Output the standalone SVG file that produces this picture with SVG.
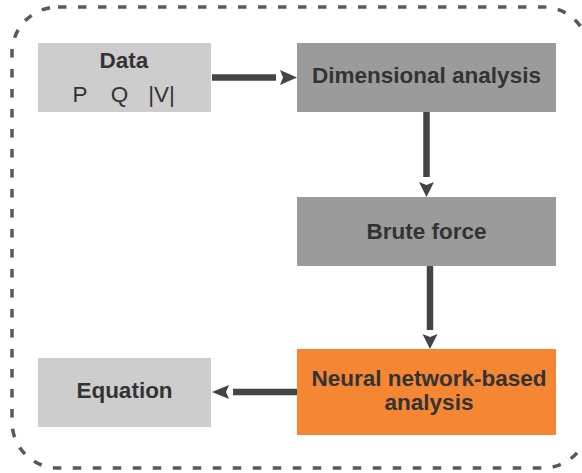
<svg xmlns="http://www.w3.org/2000/svg" width="582" height="473" viewBox="0 0 582 473">
<style>
.frame{fill:none;stroke:#595959;stroke-width:3.5;stroke-dasharray:8.5 11.5}
.light{fill:#cdcdcd}
.mid{fill:#9b9b9b}
.orange{fill:#f58634}
.t{font-family:"Liberation Sans",Arial,sans-serif;font-weight:bold;font-size:22.5px;fill:#333333;text-anchor:middle}
.r{font-family:"Liberation Sans",Arial,sans-serif;font-size:22.5px;fill:#333333;text-anchor:middle}
.ln{stroke:#444444;stroke-width:6.5;fill:none}
.hd{fill:#444444}
</style>
<rect class="frame" x="12" y="7" width="577" height="461" rx="46" ry="46"/>
<g id="data">
<rect class="light" x="38" y="43" width="173" height="69"/>
<text class="t" x="124" y="68" font-size="21.5">Data</text>
<text class="r" x="80" y="102">P</text>
<text class="r" x="119.5" y="102">Q</text>
<text class="r" x="161.5" y="102">|V|</text>
</g>
<g id="dimensional">
<rect class="mid" x="297" y="43" width="259" height="69"/>
<text class="t" x="426.5" y="83">Dimensional analysis</text>
</g>
<g id="brute">
<rect class="mid" x="297" y="197" width="259" height="69"/>
<text class="t" x="426.5" y="239">Brute force</text>
</g>
<g id="neural">
<rect class="orange" x="297" y="349" width="259" height="86"/>
<text class="t" x="429" y="386">Neural network-based</text>
<text class="t" x="429" y="410">analysis</text>
</g>
<g id="equation">
<rect class="light" x="38" y="358" width="173" height="69"/>
<text class="t" x="124.5" y="398">Equation</text>
</g>
<g id="connectors">
<line class="ln" x1="212" y1="77.5" x2="276" y2="77.5"/>
<path class="hd" d="M280,70 L297,77.5 L280,85 L283,77.5 Z"/>
<line class="ln" x1="426.5" y1="112" x2="426.5" y2="177"/>
<path class="hd" d="M419,182 L426.5,197 L434,182 L426.5,185 Z"/>
<line class="ln" x1="430" y1="266" x2="430" y2="330"/>
<path class="hd" d="M422.5,334 L430,349 L437.5,334 L430,337 Z"/>
<line class="ln" x1="297" y1="392" x2="233" y2="392"/>
<path class="hd" d="M229,385 L212,392 L229,399 L226,392 Z"/>
</g>
</svg>
